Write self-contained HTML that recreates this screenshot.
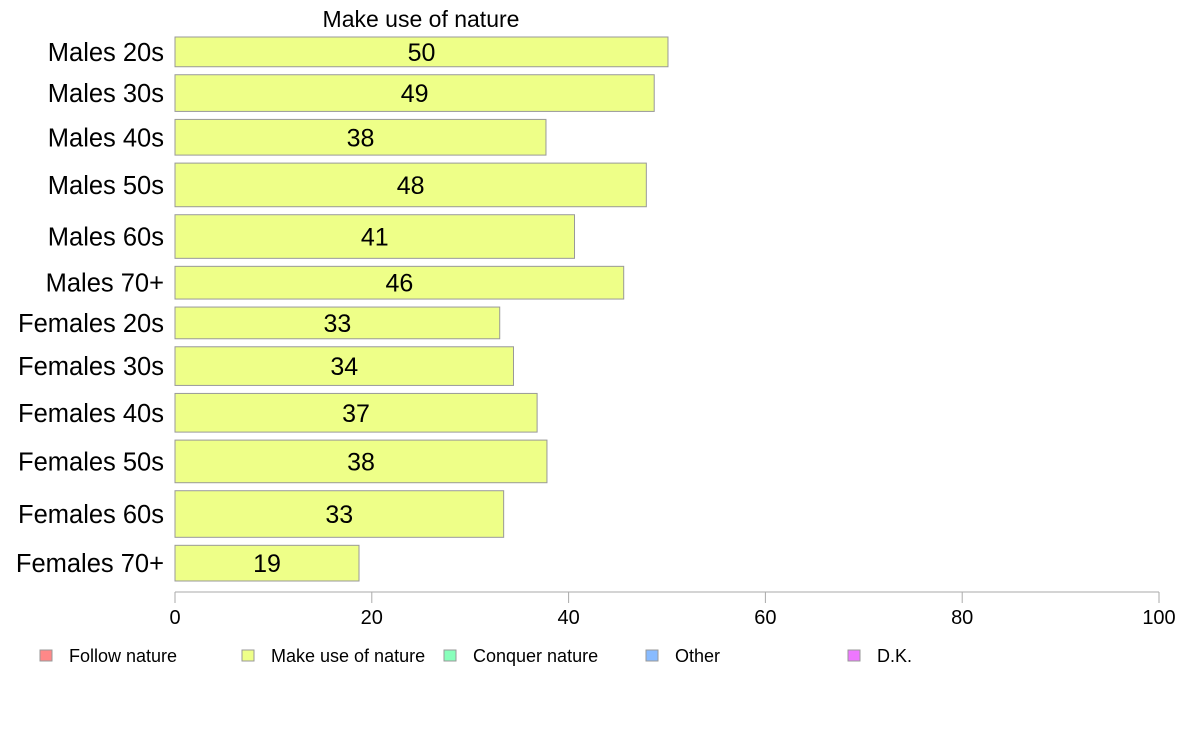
<!DOCTYPE html>
<html><head><meta charset="utf-8"><style>body{margin:0;background:#fff}svg{display:block;font-family:"Liberation Sans",Arial,sans-serif}</style></head>
<body>
<svg id="chart" width="1188" height="736" viewBox="0 0 1188 736">
<text x="421" y="27" font-size="23" text-anchor="middle">Make use of nature</text>
<g id="bars"></g><g id="axis"></g><g id="legend"></g>
</svg>
<script>
const categories=["Males 20s","Males 30s","Males 40s","Males 50s","Males 60s","Males 70+","Females 20s","Females 30s","Females 40s","Females 50s","Females 60s","Females 70+"];
const values=[50.1,48.7,37.7,47.9,40.6,45.6,33.0,34.4,36.8,37.8,33.4,18.7];
const weights=[30,37,36,44,44,33,32,39,39,43,47,36];
const ticks=[0,20,40,60,80,100];
const legendLabels=["Follow nature","Make use of nature","Conquer nature","Other","D.K."];
const legendColors=["#ff8888","#eeff88","#88ffbb","#88bbff","#ee77ff"];
const NS="http://www.w3.org/2000/svg";
function mk(t,a,p){const e=document.createElementNS(NS,t);for(const k in a)e.setAttribute(k,a[k]);p.appendChild(e);return e;}
const x0=175,x1=1159,yTop=37,yBot=581,gap=8;
const xs=v=>x0+(v/100)*(x1-x0);
const tot=weights.reduce((a,b)=>a+b,0);
const unit=(yBot-yTop-gap*(weights.length-1))/tot;
const bars=document.getElementById('bars');
let y=yTop;
categories.forEach((c,i)=>{
  const h=weights[i]*unit;
  const r=mk('rect',{x:x0,y:y,width:xs(values[i])-x0,height:h,fill:"#eeff88",stroke:"#999","stroke-width":1},bars);
  
  
  const t=mk('text',{x:(x0+xs(values[i]))/2,y:y+h/2+9,"font-size":25,"text-anchor":"middle"},bars);
  t.textContent=Math.round(values[i]);
  
  
  const l=mk('text',{x:164,y:y+h/2+9,"font-size":25.5,"text-anchor":"end"},bars);
  l.textContent=c;
  
  
  y+=h+gap;
});
const ax=document.getElementById('axis');
const al=mk('line',{x1:x0,x2:x1,y1:592,y2:592,stroke:"#aaa","stroke-width":1},ax);


ticks.forEach(v=>{
  const tl=mk('line',{x1:xs(v),x2:xs(v),y1:592,y2:603,stroke:"#aaa"},ax);
  
  
  const tt=mk('text',{x:xs(v),y:624,"font-size":20,"text-anchor":"middle"},ax);
  tt.textContent=v;
  
  
});
const lg=document.getElementById('legend');
const lx=[40,242,444,646,848];
legendLabels.forEach((s,i)=>{
  const r=mk('rect',{x:lx[i],y:650,width:12,height:11,fill:legendColors[i],stroke:"#999"},lg);
  
  
  const t=mk('text',{x:lx[i]+29,y:662,"font-size":18},lg);
  t.textContent=s;
  
  
});
</script>
</body></html>
